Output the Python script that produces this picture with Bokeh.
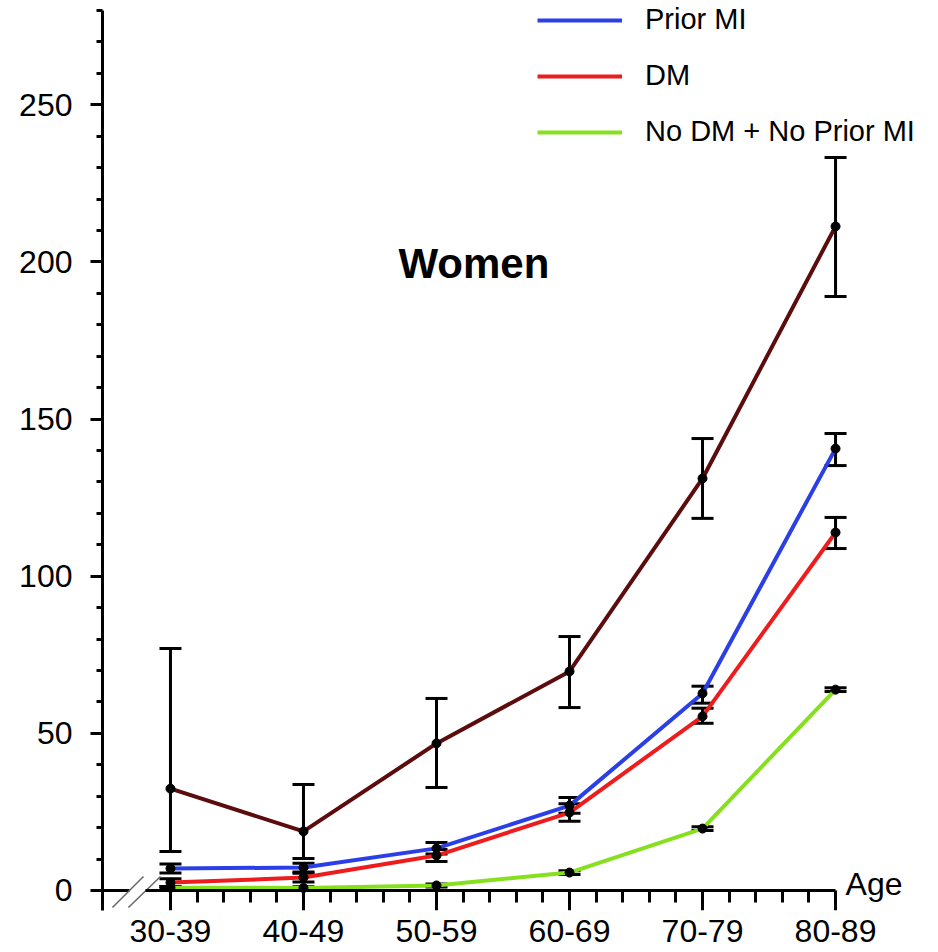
from bokeh.plotting import figure
from bokeh.models import (Range1d, FixedTicker, SingleIntervalTicker, Whisker, TeeHead,
                          ColumnDataSource, Legend, LegendItem, Label, LinearAxis)
from bokeh.embed import file_html
from bokeh.resources import INLINE

# ---------------- data ----------------
age_groups = ["30-39", "40-49", "50-59", "60-69", "70-79", "80-89"]

both_mean = [32.4, 18.8, 46.8, 69.7, 131.1, 211.3]
both_lower = [12.4, 10.2, 32.8, 58.2, 118.4, 189.0]
both_upper = [77.0, 33.7, 61.1, 80.8, 143.8, 233.2]

prior_mi_mean = [7.0, 7.3, 13.4, 27.0, 62.7, 140.6]
prior_mi_lower = [5.6, 5.9, 11.6, 24.6, 59.6, 135.2]
prior_mi_upper = [8.4, 8.7, 15.3, 29.6, 65.0, 145.4]

dm_mean = [2.5, 4.1, 11.1, 24.8, 55.4, 113.9]
dm_lower = [1.3, 2.7, 9.2, 22.0, 53.2, 108.8]
dm_upper = [3.7, 5.5, 13.0, 27.6, 58.0, 118.7]

none_mean = [0.9, 0.8, 1.6, 5.7, 19.7, 63.9]
none_lower = [0.5, 0.4, 1.1, 5.1, 19.1, 63.3]
none_upper = [1.3, 1.2, 2.1, 6.3, 20.3, 64.5]

legend_labels = ["Prior MI", "DM", "No DM + No Prior MI"]

# ---------------- figure ----------------
xs = list(range(len(age_groups)))
FONT = "Liberation Sans"

p = figure(width=938, height=952, output_backend="svg", toolbar_location=None, title=None,
           x_range=Range1d(-0.511, 5.774), y_range=Range1d(-6.37, 283.18),
           x_axis_type=None, y_axis_type=None,
           min_border_left=102, min_border_right=0, min_border_top=0, min_border_bottom=42)
p.outline_line_color = None
p.xgrid.visible = False
p.ygrid.visible = False


def style_axis(ax, major_out, minor_out):
    ax.axis_line_width = 3
    ax.axis_line_color = "black"
    ax.major_tick_line_width = 3
    ax.minor_tick_line_width = 3
    ax.major_tick_line_color = "black"
    ax.minor_tick_line_color = "black"
    ax.major_tick_in = 0
    ax.minor_tick_in = 0
    ax.major_tick_out = major_out
    ax.minor_tick_out = minor_out
    ax.major_label_text_font = FONT
    ax.major_label_text_font_size = "32px"
    ax.major_label_text_color = "black"


labels_map = {i: g for i, g in zip(xs, age_groups)}

# x axis line + ticks, drawn at y = 0
minor_x = [i + f for i in range(len(age_groups) - 1) for f in (0.2, 0.4, 0.6, 0.8)]
xaxis = LinearAxis(ticker=FixedTicker(ticks=xs, minor_ticks=minor_x), fixed_location=0,
                   bounds=(-0.188, 5), major_label_overrides=labels_map)
style_axis(xaxis, 20, 12)
xaxis.major_label_text_color = None
p.add_layout(xaxis, "below")

# x tick labels (category names)
xlab = LinearAxis(ticker=FixedTicker(ticks=xs), major_label_overrides=labels_map)
style_axis(xlab, 0, 0)
xlab.axis_line_color = None
xlab.major_tick_line_color = None
xlab.minor_tick_line_color = None
xlab.major_label_standoff = 9
p.add_layout(xlab, "below")

yaxis = LinearAxis(ticker=SingleIntervalTicker(interval=50, num_minor_ticks=5),
                   bounds=(-6.37, 280))
style_axis(yaxis, 12, 6)
yaxis.major_label_standoff = 18
p.add_layout(yaxis, "left")

# axis break decoration (left stub and two slashes)
p.segment(x0=[-0.511], y0=[0], x1=[-0.308], y1=[0], line_color="black", line_width=3)
p.segment(x0=[-0.436, -0.316], y0=[-5.4, -5.4], x1=[-0.203, -0.075], y1=[4.45, 4.45],
          line_color="#666666", line_width=1.5)

series = [
    (both_mean, both_lower, both_upper, "#5c0c0c"),
    (prior_mi_mean, prior_mi_lower, prior_mi_upper, "#2b3fe6"),
    (dm_mean, dm_lower, dm_upper, "#ee1c1c"),
    (none_mean, none_lower, none_upper, "#86e01e"),
]

line_renderers = []
for mean, lo, up, col in reversed(series):
    r = p.line(xs, mean, line_color=col, line_width=4)
    line_renderers.append(r)
line_renderers = line_renderers[::-1]

for mean, lo, up, col in series:
    src = ColumnDataSource(dict(x=xs, mean=mean, lower=lo, upper=up))
    w = Whisker(source=src, base="x", upper="upper", lower="lower", dimension="height",
                line_color="black", line_width=3,
                upper_head=TeeHead(size=22, line_width=3, line_color="black"),
                lower_head=TeeHead(size=22, line_width=3, line_color="black"))
    p.add_layout(w)
    p.scatter("x", "mean", source=src, size=9, color="black")

legend = Legend(items=[LegendItem(label=lab, renderers=[r])
                       for lab, r in zip(legend_labels, line_renderers[1:])],
                location=(435, 762))
legend.label_text_font = FONT
legend.label_text_font_size = "29px"
legend.label_text_color = "black"
legend.glyph_width = 85
legend.glyph_height = 20
legend.label_standoff = 23
legend.spacing = 23
legend.padding = 0
legend.margin = 0
legend.border_line_color = None
legend.background_fill_alpha = 0
p.add_layout(legend)

p.add_layout(Label(x=1.714, y=199.5, text="Women", text_font=FONT, text_font_size="42px",
                   text_font_style="bold", text_baseline="alphabetic", text_color="black"))
p.add_layout(Label(x=5, y=0, x_offset=10, y_offset=6, text="Age", text_font=FONT,
                   text_font_size="32px", text_baseline="alphabetic", text_color="black"))
p.add_layout(Label(x=-87, y=26, x_units="screen", y_units="screen", text="e", text_font=FONT,
                   text_font_size="32px", text_align="right", text_baseline="alphabetic",
                   text_color="black"))

open("out.html", "w").write(file_html(p, INLINE))
